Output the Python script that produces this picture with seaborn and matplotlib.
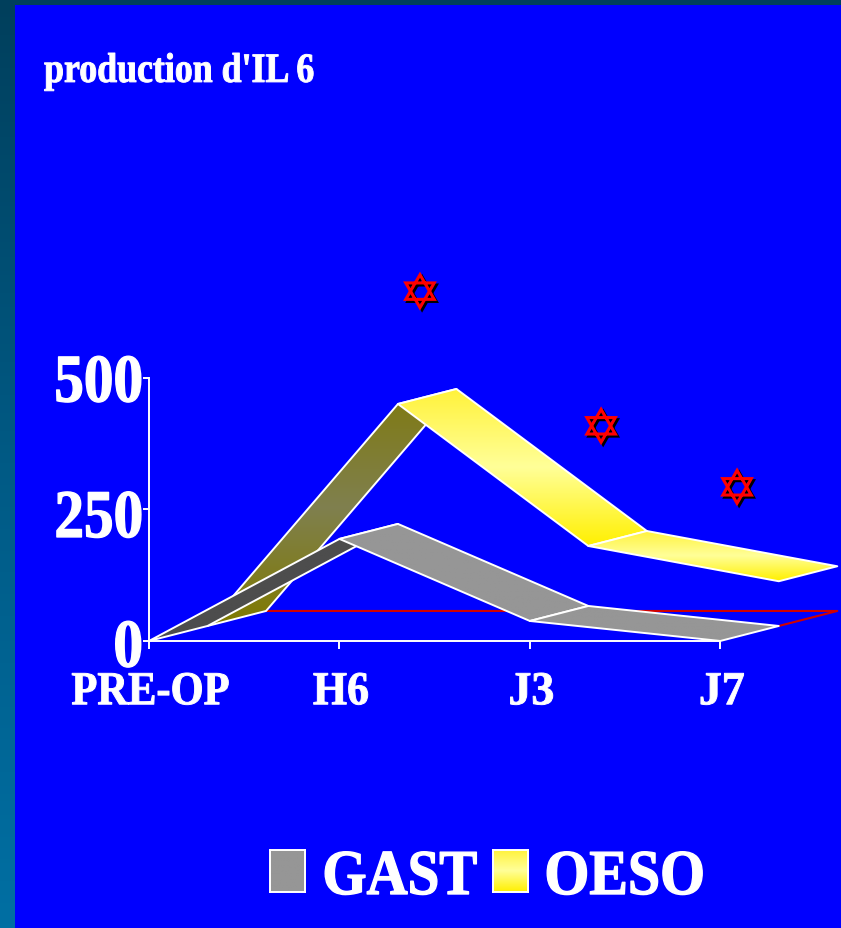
import numpy as np
import seaborn as sns
import matplotlib
matplotlib.use("Agg")
import matplotlib.pyplot as plt
import matplotlib.patheffects as pe
from matplotlib.colors import LinearSegmentedColormap
from matplotlib.markers import MarkerStyle
from matplotlib.path import Path
from matplotlib.transforms import Affine2D

# chart values
categories = ["PRE-OP", "H6", "J3", "J7"]
gast_values = [0, 194, 38, 0]
oeso_values = [0, 422, 152, 85]
star_x = [1.423, 2.374, 3.088]
star_y = [665, 409, 293]
y_ticks = [0, 250, 500]
title_text = "production d'IL 6"
legend_names = ["GAST", "OESO"]

W, H = 841, 928
X0, Y0 = 149, 641         # pixel position of the origin
PX_X, PX_Y = 190.4, 0.526  # pixels per category, pixels per unit
DEPTH_X, DEPTH_Y = 58.5 / PX_X, 15 / PX_Y  # 3d offset of one layer

BLUE = "#0000ff"
yellow_ramp = LinearSegmentedColormap.from_list("y", ["#fff23a", "#ffff99", "#fff000"])
olive_ramp = LinearSegmentedColormap.from_list("o", ["#7f7a10", "#80804f", "#7f7a00"])
gray_ramp = LinearSegmentedColormap.from_list("g", ["#969696", "#969696"])
dark_ramp = LinearSegmentedColormap.from_list("d", ["#4d4d4d", "#4d4d4d"])


class Squeeze(pe.AbstractPathEffect):
    # tight letter spacing and heavy strokes of the original
    def __init__(self, sx, anchor=0.5, dx=0, dy=0, stroke=0.7):
        super().__init__()
        self.sx = sx
        self.anchor = anchor
        self.dx = dx
        self.dy = dy
        self.stroke = stroke

    def draw_path(self, renderer, gc, tpath, affine, rgbFace=None):
        ext = tpath.get_extents()
        x0 = ext.x0 + self.anchor * ext.width
        tr = Affine2D().translate(-x0, 0).scale(self.sx, 1).translate(x0, 0) + affine
        tr = tr + Affine2D().translate(self.dx, -self.dy)
        gc0 = renderer.new_gc()
        gc0.copy_properties(gc)
        gc0.set_linewidth(self.stroke)
        gc0.set_foreground("white")
        renderer.draw_path(gc0, tpath, tr, rgbFace)
        gc0.restore()


def gradient_poly(ax, xs, ys, cmap, zorder):
    # polygon with a vertical gradient and a white edge
    poly = ax.fill(xs, ys, facecolor="none", edgecolor="white", lw=1.4, zorder=zorder + 0.1,
                   joinstyle="round", clip_on=False)[0]
    grad = np.linspace(0, 1, 128).reshape(-1, 1)
    im = ax.imshow(grad, cmap=cmap, aspect="auto", origin="upper", zorder=zorder, vmin=0, vmax=1,
                   extent=(min(xs), max(xs), min(ys), max(ys)))
    im.set_clip_path(poly)


def ribbon(ax, values, layer, cmaps, zorder):
    # one 3d ribbon, one panel per segment
    x = np.arange(len(values)) + layer * DEPTH_X
    y = np.array(values) + layer * DEPTH_Y
    for i in range(len(values) - 1):
        px = [x[i], x[i] + DEPTH_X, x[i + 1] + DEPTH_X, x[i + 1]]
        py = [y[i], y[i] + DEPTH_Y, y[i + 1] + DEPTH_Y, y[i + 1]]
        gradient_poly(ax, px, py, cmaps[i], zorder + i * 0.2)


def main():
    sns.set_theme(style="white")
    plt.rcParams["font.family"] = ["Liberation Serif", "DejaVu Serif"]
    plt.rcParams["font.weight"] = "bold"

    fig = plt.figure(figsize=(W / 100 + 0.001, H / 100 + 0.001), dpi=100)
    fig.patch.set_facecolor(BLUE)

    # teal frame on the left and top, blue panel on it
    bg = fig.add_axes([0, 0, 1, 1], zorder=0)
    frame = LinearSegmentedColormap.from_list("f", ["#003f5c", "#005a85", "#006fa3"])
    bg.imshow(np.linspace(0, 1, 256).reshape(-1, 1), cmap=frame, aspect="auto", extent=(0, W, H, 0))
    bg.fill_between([15, W], 5, H, color=BLUE, lw=0)
    bg.set_xlim(0, W)
    bg.set_ylim(H, 0)
    bg.axis("off")

    # main axes fills the figure, spines only cover the value range
    ax = fig.add_axes([0, 0, 1, 1], zorder=1)
    ax.patch.set_alpha(0)
    xlim = (-X0 / PX_X, (W - X0) / PX_X)
    ylim = ((Y0 - H) / PX_Y, Y0 / PX_Y)

    # floor of the back layer
    last = len(categories) - 1
    floor_x = [2 * DEPTH_X, last + 2 * DEPTH_X, last + DEPTH_X]
    floor_y = [2 * DEPTH_Y, 2 * DEPTH_Y, DEPTH_Y]
    sns.lineplot(x=floor_x, y=floor_y, sort=False, estimator=None, color="#d00000", lw=1.5, ax=ax, zorder=1)

    ribbon(ax, oeso_values, 1, [olive_ramp, yellow_ramp, yellow_ramp], 2)
    ribbon(ax, gast_values, 0, [dark_ramp, gray_ramp, gray_ramp], 3)

    # star of david markers
    a = np.radians([90, 210, 330])
    up = np.c_[np.cos(a), np.sin(a)]
    verts = np.vstack([up, up[:1], -up, -up[:1]])
    codes = [Path.MOVETO, Path.LINETO, Path.LINETO, Path.CLOSEPOLY] * 2
    star = MarkerStyle(Path(verts, codes), joinstyle="miter")
    pts = sns.scatterplot(x=star_x, y=star_y, marker=star, s=560, facecolor="none", edgecolor="#ff0000",
                          linewidth=2.2, joinstyle="miter", ax=ax, zorder=6, clip_on=False)
    pts.collections[-1].set_path_effects([
        pe.SimpleLineShadow(offset=(1.5, -1.5), shadow_color="black", alpha=1.0), pe.Normal()])

    ax.set_xlim(xlim)
    ax.set_ylim(ylim)
    sns.despine(ax=ax)
    for side in ["left", "bottom"]:
        ax.spines[side].set_position(("data", 0))
        ax.spines[side].set_color("white")
        ax.spines[side].set_linewidth(1.4)
    ax.spines["left"].set_bounds(0, 500)
    ax.spines["bottom"].set_bounds(0, last)

    ax.set_xticks(range(len(categories)), categories, fontsize=34, color="white", fontweight="bold")
    ax.set_yticks(y_ticks, [str(v) for v in y_ticks], fontsize=49, color="white", fontweight="bold")
    ax.tick_params(axis="x", length=5.5, width=1.4, color="white", bottom=True, pad=17)
    ax.tick_params(axis="y", length=4, width=1.4, color="white", left=True, pad=0)
    for lab, sq in zip(ax.get_xticklabels(), [0.9, 0.93, 0.97, 0.97]):
        lab.set_path_effects([Squeeze(sq, dx=1.5)])
    for lab, dy in zip(ax.get_yticklabels(), [2, 4, 0]):
        lab.set_path_effects([Squeeze(0.87, anchor=1, dy=dy, stroke=1.0)])

    ax.text(0.0523, 1 - 82 / H, title_text, transform=fig.transFigure, fontsize=30, color="white",
            fontweight="bold", ha="left", va="baseline", path_effects=[Squeeze(0.86, anchor=0)])

    # legend, built by hand because the swatch has a gradient
    swatches = [(270, gray_ramp), (493, yellow_ramp)]
    label_x = [322, 544]
    squeeze = [0.89, 0.905]
    for (sx, cmap), name, lx, sq in zip(swatches, legend_names, label_x, squeeze):
        sw = fig.add_axes([sx / W, 1 - 892 / H, 35 / W, 42 / H], zorder=2)
        sw.imshow(np.linspace(0, 1, 64).reshape(-1, 1), cmap=cmap, aspect="auto", vmin=0, vmax=1)
        sw.set_xticks([])
        sw.set_yticks([])
        for s in sw.spines.values():
            s.set_color("white")
            s.set_linewidth(1.4)
        fig.text(lx / W, 1 - 894 / H, name, fontsize=46, color="white", fontweight="bold",
                 ha="left", va="baseline", path_effects=[Squeeze(sq, anchor=0, stroke=1.0)])

    fig.savefig("out.png", dpi=100, facecolor=BLUE)


if __name__ == "__main__":
    main()
